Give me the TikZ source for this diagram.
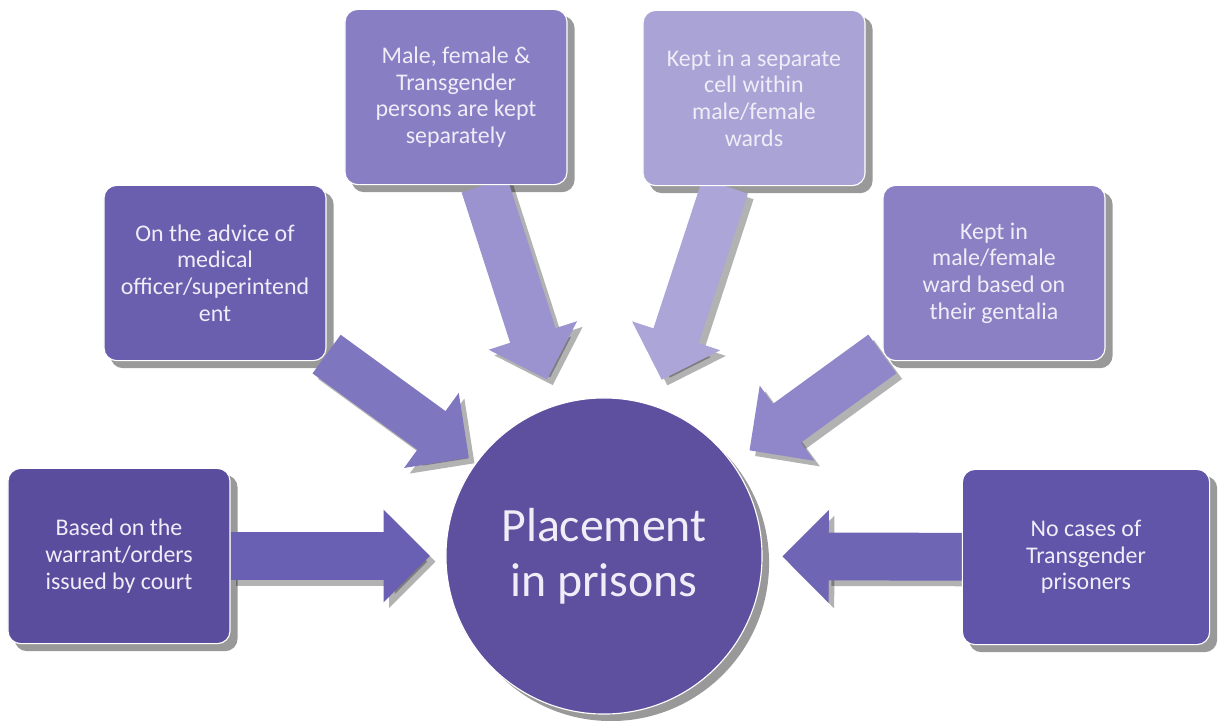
\documentclass[tikz,border=0pt]{standalone}
\usepackage{fontspec}
\setmainfont{Carlito}
\usepackage{xcolor}
\usetikzlibrary{arrows.meta,shadows}
\pgfdeclarelayer{fond}
\pgfdeclarelayer{fleches}
\pgfsetlayers{fond,fleches,main}
\definecolor{boiteA}{HTML}{5B4D9E}
\definecolor{boiteB}{HTML}{6A5EAE}
\definecolor{boiteC}{HTML}{887EC3}
\definecolor{boiteD}{HTML}{AAA4D6}
\definecolor{boiteE}{HTML}{8A80C3}
\definecolor{boiteF}{HTML}{6055A8}
\definecolor{flecheA}{HTML}{6A60B3}
\definecolor{flecheB}{HTML}{7F76C0}
\definecolor{flecheC}{HTML}{9B93CF}
\definecolor{flecheD}{HTML}{ABA5D8}
\definecolor{flecheE}{HTML}{8F87C9}
\definecolor{flecheF}{HTML}{6E65B5}
\definecolor{centre}{HTML}{5E4F9F}
\definecolor{texte}{HTML}{F0ECF8}
\begin{document}
\begin{tikzpicture}[x=0.025cm,y=-0.025cm]
% Styles
\tikzstyle{boite}=[rounded corners=9pt,draw=white,line width=0.8pt,text=texte,align=center,
  minimum width=5.55cm,minimum height=4.38cm,font=\fontsize{17}{19}\selectfont]
\tikzstyle{rond}=[circle,fill=centre,draw=white,line width=0.8pt,text=texte,align=center,
  minimum size=7.9cm,font=\fontsize{34}{39}\selectfont,
  drop shadow={shadow xshift=5pt,shadow yshift=-5pt,opacity=0.4,fill=black}]
\tikzstyle{ombreboite}=[rounded corners=9pt,black,opacity=0.4]
\tikzstyle{fleche}=[line width=34pt,-{Triangle[length=33pt,width=64pt]}]
\tikzstyle{ombre}=[transform canvas={shift={(4pt,-4pt)}},black,opacity=0.3]
\useasboundingbox (0,0) rectangle (1218,721);
% Noeuds
\node[rond] (C) at (604,556) {Placement\\in prisons};
\node[boite,fill=boiteA] (B1) at (119,556) {Based on the\\warrant/orders\\issued by court};
\node[boite,fill=boiteB] (B2) at (215,273) {On the advice of\\medical\\officer/superintend\\ent};
\node[boite,fill=boiteC] (B3) at (456,97) {Male, female \&\\Transgender\\persons are kept\\separately};
\node[boite,fill=boiteD] (B4) at (754,98) {Kept in a separate\\cell within\\male/female\\wards};
\node[boite,fill=boiteE] (B5) at (994,273) {Kept in\\male/female\\ward based on\\their gentalia};
\node[boite,fill=boiteF,minimum width=6.18cm] (B6) at (1086,557) {No cases of\\Transgender\\prisoners};
% Ombres des boites
\begin{pgfonlayer}{fond}
\foreach \b in {B1,B2,B3,B4,B5,B6}
  \fill[ombreboite] ([shift={(5pt,-5pt)}]\b.south west) rectangle ([shift={(5pt,-5pt)}]\b.north east);
\end{pgfonlayer}
% Fleches
\begin{pgfonlayer}{fleches}
\draw[fleche,ombre,shorten >=11pt] (B1)--(C);
\draw[fleche,flecheA,shorten >=11pt] (B1)--(C);
\draw[fleche,ombre,shorten >=6pt] (B2)--(C);
\draw[fleche,flecheB,shorten >=6pt] (B2)--(C);
\draw[fleche,ombre,shorten >=19pt] (B3)--(C);
\draw[fleche,flecheC,shorten >=19pt] (B3)--(C);
\draw[fleche,ombre,shorten >=19pt] (B4)--(C);
\draw[fleche,flecheD,shorten >=19pt] (B4)--(C);
\draw[fleche,ombre,shorten >=15pt] (B5)--(C);
\draw[fleche,flecheE,shorten >=15pt] (B5)--(C);
\draw[fleche,ombre,shorten >=14pt] (B6)--(C);
\draw[fleche,flecheF,shorten >=14pt] (B6)--(C);
\end{pgfonlayer}
\end{tikzpicture}
\end{document}
